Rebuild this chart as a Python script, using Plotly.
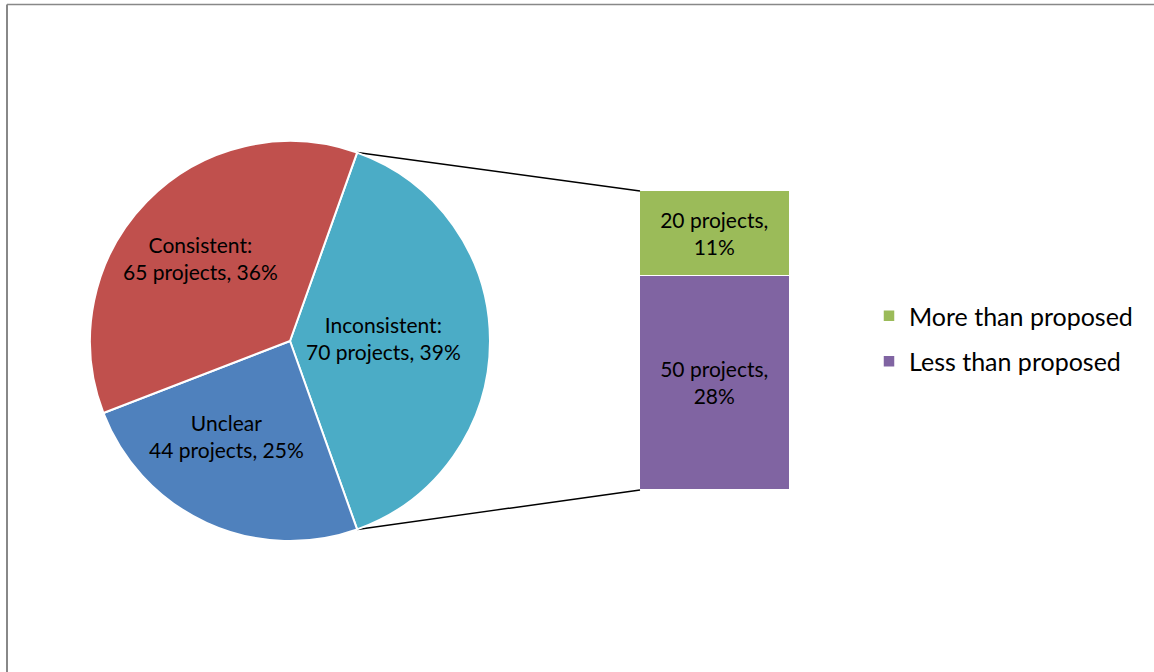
import math
import plotly.graph_objects as go

W, H = 1154, 672

pie_labels = ["Inconsistent", "Unclear", "Consistent"]
pie_values = [70, 44, 65]
pie_text = ["Inconsistent:<br>70 projects, 39%", "Unclear<br>44 projects, 25%", "Consistent:<br>65 projects, 36%"]
pie_colors = ["#4BACC6", "#4F81BD", "#C0504D"]

bar_names = ["Less than proposed", "More than proposed"]
bar_values = [50, 20]
bar_text = ["50 projects,<br>28%", "20 projects,<br>11%"]
bar_colors = ["#8064A2", "#9BBB59"]

FONT = "Lato"
TS = 21

# pixel layout
pcx, pcy, pr = 290, 341, 200
bx0, bx1, by0, by1 = 640, 790, 191, 490
# label placement inside slices: (angle offset deg, radius fraction)
LABEL_PLACE = [(-2.0, 0.47), (9.0, 0.57), (-1.5, 0.61)]

def px(x):
    return x / W

def py(y):
    return 1 - y / H

total = sum(pie_values)
rot = 90 - 180 * pie_values[0] / total  # center first slice at 3 o'clock

fig = go.Figure()
fig.add_trace(go.Pie(
    labels=pie_labels, values=pie_values, text=pie_text,
    textinfo="none",
    sort=False, direction="clockwise", rotation=rot,
    marker=dict(colors=pie_colors, line=dict(color="white", width=2)),
    domain=dict(x=[px(pcx - pr), px(pcx + pr)], y=[py(pcy + pr), py(pcy - pr)]),
    showlegend=False, hoverinfo="label+value+percent",
))

annotations = []
cum = 0
for v, t, (da, rf) in zip(pie_values, pie_text, LABEL_PLACE):
    mid = math.radians(rot + 360 * (cum + v / 2) / total + da)
    cum += v
    lx = pcx + rf * pr * math.sin(mid)
    ly = pcy - rf * pr * math.cos(mid)
    annotations.append(dict(x=px(lx), y=py(ly), xref="paper", yref="paper",
                            text=t, showarrow=False, xanchor="center", yanchor="middle",
                            font=dict(family=FONT, size=TS, color="black")))

for i, (n, v, t, c) in enumerate(zip(bar_names, bar_values, bar_text, bar_colors)):
    fig.add_trace(go.Bar(
        x=[0], y=[v], name=n, text=[t], textposition="inside",
        insidetextanchor="middle",
        textfont=dict(family=FONT, size=TS, color="black"),
        marker=dict(color=c, line=dict(color="white", width=1.5)),
        width=1, legendrank=2 - i, legendgroup=n,
    ))

# connector lines from pie edge to bar corners
shapes = []
a1 = math.radians(rot)
a2 = math.radians(rot + 360 * pie_values[0] / total)
for a, ty in [(a1, by0), (a2, by1)]:
    sx = pcx + pr * math.sin(a)
    sy = pcy - pr * math.cos(a)
    shapes.append(dict(type="line", xref="paper", yref="paper",
                       x0=px(sx), y0=py(sy), x1=px(bx0), y1=py(ty),
                       line=dict(color="black", width=1.5), layer="below"))
# chart border
shapes.append(dict(type="line", xref="paper", yref="paper", x0=px(7), y0=py(4.5), x1=1.01, y1=py(4.5),
                   line=dict(color="#888888", width=1.5)))
shapes.append(dict(type="line", xref="paper", yref="paper", x0=px(7), y0=py(4.5), x1=px(7), y1=-0.01,
                   line=dict(color="#888888", width=2)))

fig.update_layout(
    width=W, height=H,
    margin=dict(l=0, r=0, t=0, b=0),
    paper_bgcolor="white", plot_bgcolor="rgba(0,0,0,0)",
    barmode="stack", bargap=0,
    font=dict(family=FONT, size=TS, color="black"),
    xaxis=dict(domain=[px(bx0), px(bx1)], range=[-0.5, 0.5], visible=False, fixedrange=True),
    yaxis=dict(domain=[py(by1), py(by0)], range=[0, sum(bar_values)], visible=False, fixedrange=True),
    legend=dict(x=px(869), y=py(293), xanchor="left", yanchor="top",
                font=dict(family=FONT, size=25), tracegroupgap=10,
                itemwidth=30, bgcolor="rgba(0,0,0,0)"),
    shapes=shapes,
    annotations=annotations,
)

fig.write_html("out.html")
